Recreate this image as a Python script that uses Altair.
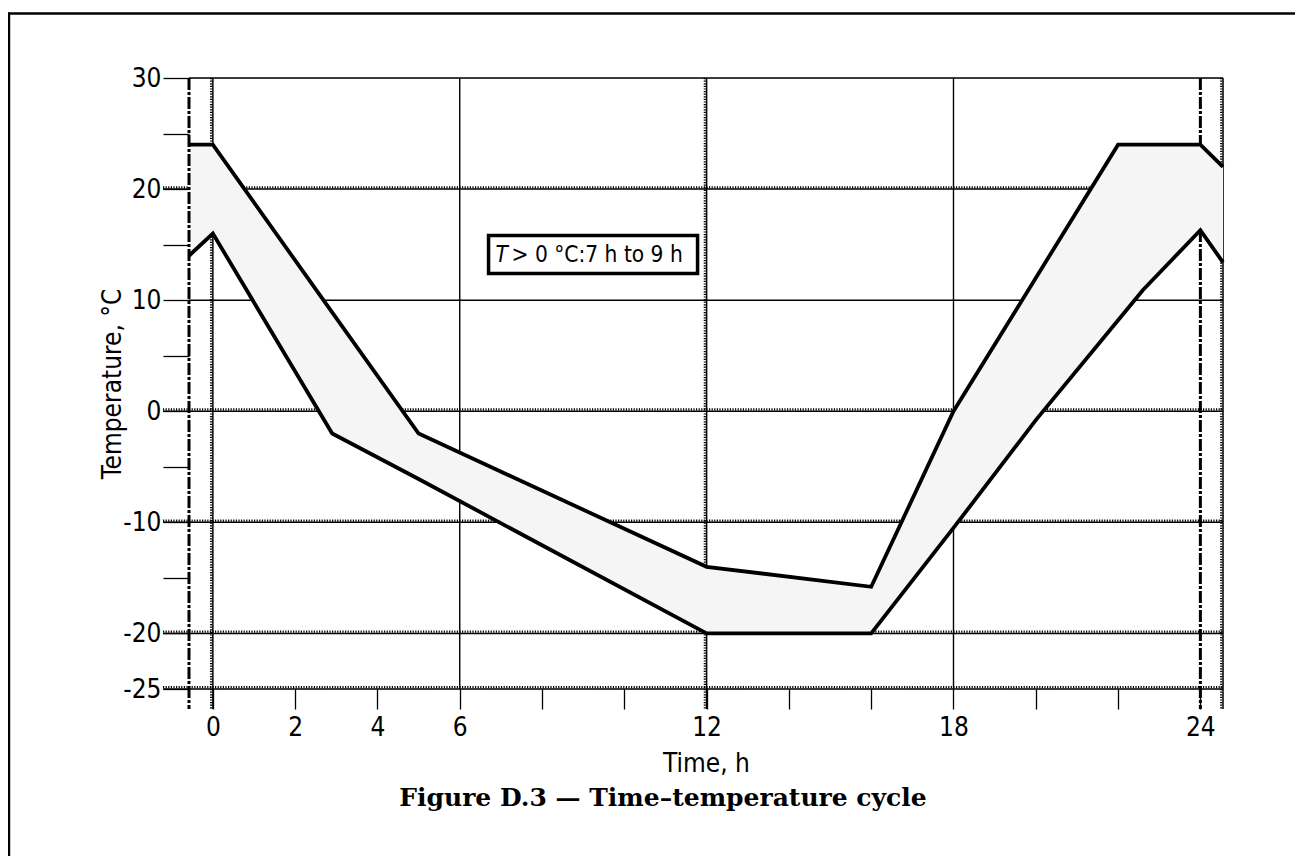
import altair as alt
import pandas as pd

# ---- data ----
time_h = [-0.58, 0, 2.9, 5, 12, 16, 18, 20, 22, 22.6, 24, 24.55]
upper_c = [24, 24, 8.9, -2, -14, -15.8, 0, 12, 24, 24, 24, 22]
lower_c = [14, 16, -2, -6.1, -20, -20, -10.5, -0.8, 8.2, 10.9, 16.3, 13.4]

x_tick_values = [0, 2, 4, 6, 8, 10, 12, 14, 16, 18, 20, 22, 24]
x_tick_labels = [0, 2, 4, 6, 12, 18, 24]
y_tick_values = [30, 25, 20, 15, 10, 5, 0, -5, -10, -15, -20, -25]
y_tick_labels = [30, 20, 10, 0, -10, -20, -25]

grid_h_solid = [30, 10]
grid_h_dotted = [20, 0, -10, -20, -25]
grid_v_solid = [6, 18]
grid_v_dotted = [0, 12, 24.55]
edge_v_dashdot_under = [24]
edge_v_dashdot_over = [-0.58]

annot_box = {"x0": [6.7], "x1": [11.78], "y0": [12.4], "y1": [15.83], "yc": [14.1]}
annot_T = "T"
annot_rest = "> 0 °C:7 h to 9 h"

x_title = "Time, h"
y_title = "Temperature, °C"
fig_title = "Figure D.3 — Time–temperature cycle"

# ---- chart ----
W, H = 1034, 611
NARROW = "Liberation Sans Narrow, Arial Narrow, DejaVu Sans Condensed, sans-serif"

xs = alt.Scale(domain=[-0.58, 24.55], nice=False, zero=False)
ys = alt.Scale(domain=[-25, 30], nice=False, zero=False)

x_lbl_expr = "indexof([%s], datum.value) >= 0 ? toString(datum.value) : ''" % ",".join(str(v) for v in x_tick_labels)
y_lbl_expr = "indexof([%s], datum.value) >= 0 ? toString(datum.value) : ''" % ",".join(str(v) for v in y_tick_labels)

xaxis = alt.Axis(values=x_tick_values, labelExpr=x_lbl_expr, title=x_title, grid=False, domain=False,
                 tickSize=20, tickColor="black", tickWidth=1.3, labelFont=NARROW, labelFontSize=26,
                 labelColor="black", labelPadding=5, labelOverlap=False, labelFlush=False,
                 titleFont=NARROW, titleFontSize=26, titleFontWeight="normal", titleColor="black",
                 titleY=74, titleBaseline="middle")
yaxis = alt.Axis(values=y_tick_values, labelExpr=y_lbl_expr, title=y_title, grid=False, domain=False,
                 tickSize=26, tickColor="black", tickWidth=1.3, labelFont=NARROW, labelFontSize=26,
                 labelColor="black", labelPadding=2, labelOverlap=False, labelFlush=False,
                 titleFont=NARROW, titleFontSize=26, titleFontWeight="normal", titleColor="black",
                 titleX=-77, titleY=H / 2, titleAngle=-90, titleBaseline="middle", titleAlign="center")

df = pd.DataFrame({"time": time_h, "upper": upper_c, "lower": lower_c})
one = pd.DataFrame({"a": [0]})

X = lambda f: alt.X(f, scale=xs, axis=xaxis)
Y = lambda f: alt.Y(f, scale=ys, axis=yaxis)

hs = alt.Chart(pd.DataFrame({"v": grid_h_solid})).mark_rule(color="black", strokeWidth=1.4).encode(
    y=Y("v:Q"), x=alt.value(0), x2=alt.value(W))
hd_base = alt.Chart(pd.DataFrame({"v": grid_h_dotted})).mark_rule(color="black", strokeWidth=1.5).encode(
    y=Y("v:Q"), x=alt.value(-26), x2=alt.value(W))
hd_comb = alt.Chart(pd.DataFrame({"v": grid_h_dotted})).mark_rule(
    color="black", strokeWidth=2.2, strokeDash=[1.2, 1.4], yOffset=-1.8).encode(
    y=Y("v:Q"), x=alt.value(-26), x2=alt.value(W))
vs = alt.Chart(pd.DataFrame({"v": grid_v_solid})).mark_rule(color="black", strokeWidth=1.4).encode(
    x=X("v:Q"), y=alt.value(0), y2=alt.value(H))
vd_base = alt.Chart(pd.DataFrame({"v": grid_v_dotted})).mark_rule(color="black", strokeWidth=1.5).encode(
    x=X("v:Q"), y=alt.value(0), y2=alt.value(H + 20))
vd_comb = alt.Chart(pd.DataFrame({"v": grid_v_dotted})).mark_rule(
    color="black", strokeWidth=2.2, strokeDash=[1.2, 1.4], xOffset=-1.8).encode(
    x=X("v:Q"), y=alt.value(0), y2=alt.value(H + 20))
dd_under = alt.Chart(pd.DataFrame({"v": edge_v_dashdot_under})).mark_rule(
    color="black", strokeWidth=3, strokeDash=[12, 2, 3, 2]).encode(
    x=X("v:Q"), y=alt.value(0), y2=alt.value(H + 20))

band = alt.Chart(df).mark_area(color="#f5f5f5", opacity=1, line=False).encode(
    x=X("time:Q"), y=Y("upper:Q"), y2="lower:Q")

dd_over = alt.Chart(pd.DataFrame({"v": edge_v_dashdot_over})).mark_rule(
    color="black", strokeWidth=3, strokeDash=[12, 2, 3, 2]).encode(
    x=X("v:Q"), y=alt.value(0), y2=alt.value(H + 20))

line_up = alt.Chart(df).mark_line(color="black", strokeWidth=3.8).encode(
    x=X("time:Q"), y=Y("upper:Q"))
line_lo = alt.Chart(df).mark_line(color="black", strokeWidth=3.8).encode(
    x=X("time:Q"), y=Y("lower:Q"))

adf = pd.DataFrame(annot_box)
box = alt.Chart(adf).mark_rect(fill="white", stroke="black", strokeWidth=3.5).encode(
    x=X("x0:Q"), x2="x1:Q", y=Y("y0:Q"), y2="y1:Q")
tT = alt.Chart(adf).mark_text(text=annot_T, font=NARROW, fontSize=22.5, fontStyle="italic",
                              align="left", baseline="middle", dx=7, color="black").encode(
    x=X("x0:Q"), y=Y("yc:Q"))
tR = alt.Chart(adf).mark_text(text=annot_rest, font=NARROW, fontSize=22.5,
                              align="left", baseline="middle", dx=23, color="black").encode(
    x=X("x0:Q"), y=Y("yc:Q"))

frame_top = alt.Chart(one).mark_rule(color="black", strokeWidth=2.4).encode(
    x=alt.value(-181), x2=alt.value(W + 72), y=alt.value(-64.5))
frame_left = alt.Chart(one).mark_rule(color="black", strokeWidth=2.4).encode(
    x=alt.value(-180), y=alt.value(-65.5), y2=alt.value(H + 170))

title_txt = alt.Chart(one).mark_text(text=fig_title, font="DejaVu Serif", fontSize=25, fontWeight="bold",
                                     align="center", baseline="middle", color="black").encode(
    x=alt.value(474), y=alt.value(720))

chart = alt.layer(
    hs, hd_base, hd_comb, vs, vd_base, vd_comb, dd_under,
    band, dd_over, line_up, line_lo, box, tT, tR, frame_top, frame_left, title_txt
).properties(
    width=W, height=H,
    autosize=alt.AutoSizeParams(type="none"),
    padding={"left": 181, "top": 70, "right": 72, "bottom": 167},
).configure_view(stroke=None).configure(background="white")

chart.save("out.html", embed_options={"renderer": "svg", "actions": False})
